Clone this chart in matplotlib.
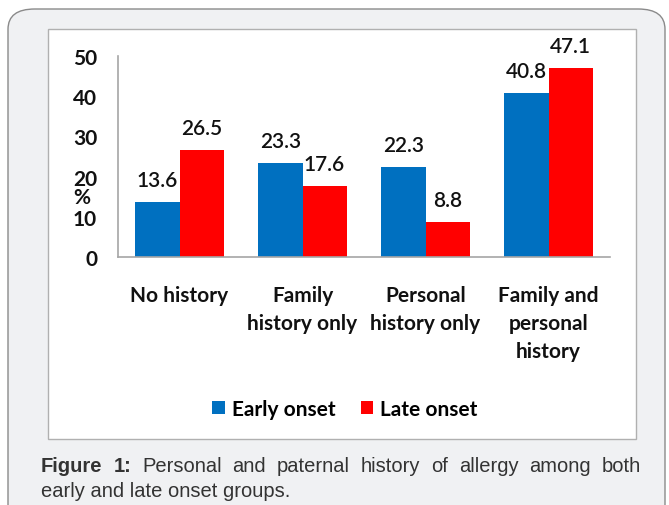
import matplotlib.pyplot as plt
import numpy as np
from matplotlib.patches import FancyBboxPatch, Rectangle

# Data
categories = ['No history', 'Family\nhistory only', 'Personal\nhistory only', 'Family and\npersonal\nhistory']
early = [13.6, 23.3, 22.3, 40.8]
late = [26.5, 17.6, 8.8, 47.1]
yticks = [0, 10, 20, 30, 40, 50]
caption_line1 = 'Personal and paternal history of allergy among both'
caption_line2 = 'early and late onset groups.'

blue = '#0070c0'
red = '#ff0000'

fig = plt.figure(figsize=(6.69, 5.06), dpi=100)
fig.patch.set_facecolor('white')

# outer grey panel with rounded corners
panel = FancyBboxPatch((8 / 669, -0.05), 657 / 669, 1 - 10 / 506 + 0.05,
                       boxstyle='round,pad=0,rounding_size=0.04',
                       transform=fig.transFigure, facecolor='#f0f1f3',
                       edgecolor='#8a8a8a', linewidth=1.0, zorder=-3)
fig.patches.append(panel)
# white chart area
inner = Rectangle((48 / 669, 1 - 440 / 506), 588 / 669, 410 / 506,
                  transform=fig.transFigure, facecolor='white',
                  edgecolor='#b0b0b0', linewidth=1.0, zorder=-2)
fig.patches.append(inner)

ax = fig.add_axes([118 / 669, 1 - 258 / 506, 492 / 669, 201 / 506])
ax.set_facecolor('none')

x = np.arange(len(categories))
w = 0.358
ax.bar(x - w / 2, early, w, color=blue, label='Early onset')
ax.bar(x + w / 2, late, w, color=red, label='Late onset')

bold = dict(family='Lato', fontweight='bold', fontsize=15, color='#111111')
val = dict(family='Lato', fontweight='semibold', fontsize=15, color='#111111')
for i in range(len(categories)):
    ax.annotate(f'{early[i]}', (x[i] - w / 2, early[i]), xytext=(0, 11.5),
                textcoords='offset points', ha='center', va='baseline', **val)
    ax.annotate(f'{late[i]}', (x[i] + w / 2, late[i]), xytext=(0, 11.5),
                textcoords='offset points', ha='center', va='baseline', **val)

ax.set_xlim(-0.5, len(categories) - 0.5)
ax.set_ylim(0, 50)
ax.set_yticks(yticks)
ax.set_yticklabels([str(t) for t in yticks], **bold)
ax.set_xticks(x)
ax.set_xticklabels(categories, linespacing=1.5, **bold)
ax.tick_params(axis='both', length=0)
ax.tick_params(axis='y', pad=15)
ax.tick_params(axis='x', pad=20)
for s in ['top', 'right']:
    ax.spines[s].set_visible(False)
for s in ['left', 'bottom']:
    ax.spines[s].set_color('#a6a6a6')
    ax.spines[s].set_linewidth(1.2)

fig.text(82 / 669, 1 - 198 / 506, '%', ha='center', va='center', **bold)

fig.legend(loc='center', bbox_to_anchor=(345 / 669, 1 - 410 / 506), ncol=2,
           frameon=False, handlelength=0.6, handleheight=0.6, handletextpad=0.35,
           columnspacing=1.2, prop=dict(family='Lato', weight='bold', size=15))

# caption, first line justified between left and right margins
cap = dict(family='Liberation Sans', fontsize=14.5, color='#333333', va='center')
left, right = 41 / 669, 641 / 669
y1, y2 = 1 - 467 / 506, 1 - 492 / 506
words = [('Figure', 'bold'), ('1:', 'bold')] + [(wd, 'normal') for wd in caption_line1.split()]
fig.canvas.draw()
renderer = fig.canvas.get_renderer()
texts = [fig.text(left, y1, wd, fontweight=wt, ha='left', **cap) for wd, wt in words]
widths = [t.get_window_extent(renderer).width / fig.bbox.width for t in texts]
gap = (right - left - sum(widths)) / (len(words) - 1)
pos = left
for t, wdt in zip(texts, widths):
    t.set_x(pos)
    pos += wdt + gap
fig.text(left, y2, caption_line2, ha='left', **cap)

fig.savefig('out.png', dpi=100)
